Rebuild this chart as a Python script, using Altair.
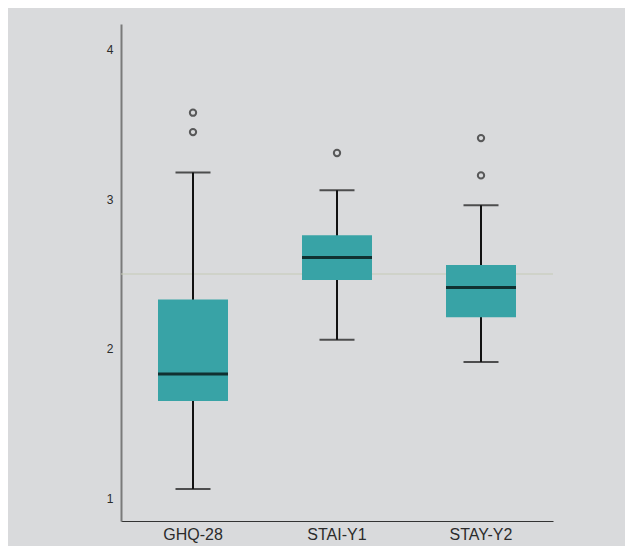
import altair as alt
import pandas as pd

categories = ["GHQ-28", "STAI-Y1", "STAY-Y2"]
whisker_low = [1.06, 2.06, 1.91]
q1 = [1.65, 2.46, 2.21]
median = [1.83, 2.61, 2.41]
q3 = [2.33, 2.76, 2.56]
whisker_high = [3.18, 3.06, 2.96]

outlier_cat = ["GHQ-28", "GHQ-28", "STAI-Y1", "STAY-Y2", "STAY-Y2"]
outlier_val = [3.58, 3.45, 3.31, 3.41, 3.16]

ref_value = [2.5]
y_ticks = [1, 2, 3, 4]

box_df = pd.DataFrame({
    "cat": categories, "lo": whisker_low, "q1": q1,
    "med": median, "q3": q3, "hi": whisker_high,
})
out_df = pd.DataFrame({"cat": outlier_cat, "val": outlier_val})
ref_df = pd.DataFrame({"v": ref_value})

x_enc = alt.X(
    "cat:N", sort=categories, title=None,
    scale=alt.Scale(paddingInner=0, paddingOuter=0),
    axis=alt.Axis(labelAngle=0, ticks=False, labelFontSize=16, labelColor="#2b2b2b",
                  labelPadding=5, domainColor="#333333", domainWidth=1.2,
                  labelFont="Liberation Sans"),
)
y_scale = alt.Scale(domain=[0.846, 4.174], nice=False, zero=False)
y_axis = alt.Axis(values=y_ticks, ticks=False, grid=False, labelFontSize=12,
                  labelColor="#2b2b2b", labelPadding=8, domainColor="#7a7a7a",
                  domainWidth=2, labelFont="Liberation Sans", format="d")

base = alt.Chart(box_df)

ref = alt.Chart(ref_df).mark_rule(color="#c6cab6", strokeWidth=1.2).encode(
    y=alt.Y("v:Q", scale=y_scale, axis=y_axis, title=None)
)

whisk = base.mark_rule(color="#111111", strokeWidth=2).encode(
    x=x_enc,
    y=alt.Y("lo:Q", scale=y_scale, axis=y_axis, title=None),
    y2="hi:Q",
)

box = base.mark_bar(size=70, color="#38a3a6").encode(
    x=x_enc,
    y=alt.Y("q1:Q", scale=y_scale, axis=y_axis, title=None),
    y2="q3:Q",
)

med = base.mark_tick(size=70, thickness=3, color="#000000").encode(
    x=x_enc, y=alt.Y("med:Q", scale=y_scale, axis=y_axis, title=None)
)

cap_lo = base.mark_tick(size=35, thickness=2, color="#111111").encode(
    x=x_enc, y=alt.Y("lo:Q", scale=y_scale, axis=y_axis, title=None)
)
cap_hi = base.mark_tick(size=35, thickness=2, color="#111111").encode(
    x=x_enc, y=alt.Y("hi:Q", scale=y_scale, axis=y_axis, title=None)
)

outs = alt.Chart(out_df).mark_point(shape="circle", filled=False, size=40,
                                    color="#222222", strokeWidth=2).encode(
    x=x_enc, y=alt.Y("val:Q", scale=y_scale, axis=y_axis, title=None)
)

chart = alt.layer(ref, whisk, box, med, cap_lo, cap_hi, outs).properties(
    width=432, height=497,
    padding={"left": 113, "top": 16, "right": 72, "bottom": 25},
    autosize=alt.AutoSizeParams(type="none"),
    background="#d9dadc",
).configure_view(stroke=None)

chart.save("out.html", embed_options={"renderer": "svg", "actions": False})
